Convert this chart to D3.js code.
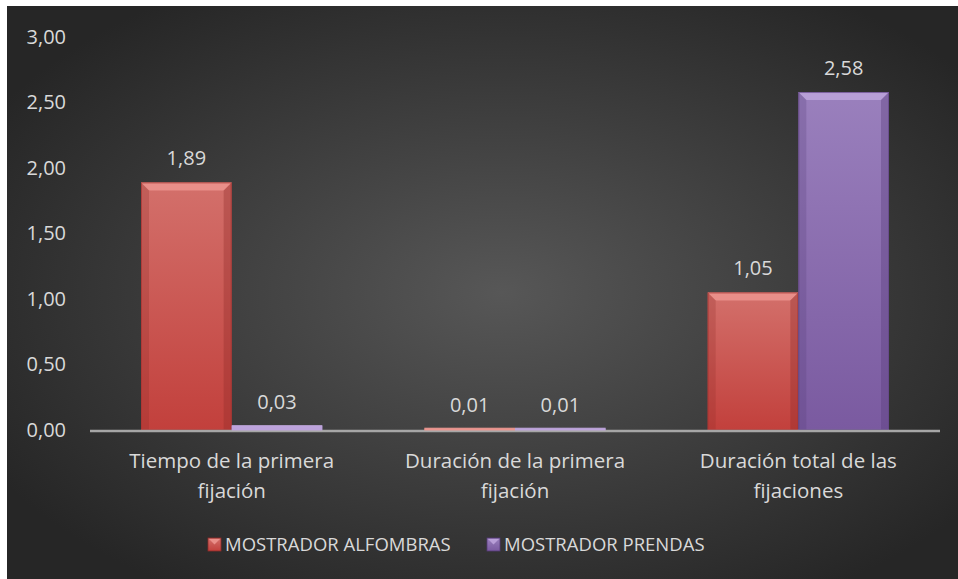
<!DOCTYPE html>
<html>
<head>
<meta charset="utf-8">
<script src="https://cdn.jsdelivr.net/npm/d3@7"></script>
<style>
  html, body { margin: 0; padding: 0; background: #ffffff; }
  svg { display: block; }
  text { font-family: "Open Sans", Lato, sans-serif; }
</style>
</head>
<body>
<svg id="chart" width="958" height="579"></svg>
<script>
// Eye-tracking metrics per display stand
const categories = [
  ["Tiempo de la primera", "fijación"],
  ["Duración de la primera", "fijación"],
  ["Duración total de las", "fijaciones"]
];
const seriesNames = ["MOSTRADOR ALFOMBRAS", "MOSTRADOR PRENDAS"];
const alfombras = [1.89, 0.01, 1.05];
const prendas = [0.03, 0.01, 2.58];
const yTicks = [0, 0.5, 1, 1.5, 2, 2.5, 3];

const W = 958, H = 579;
const FONT = 20;
const CAT_FONT = 20.5;
const LEGEND_FONT = 18.5;
const TEXT = "#d9d9d9";
const svg = d3.select("#chart");
const defs = svg.append("defs");

// Chart area background: dark radial vignette
const bg = defs.append("radialGradient").attr("id", "bg")
  .attr("cx", "52%").attr("cy", "50%").attr("r", "62%");
bg.append("stop").attr("offset", "0%").attr("stop-color", "#575757");
bg.append("stop").attr("offset", "100%").attr("stop-color", "#262626");
svg.append("rect").attr("x", 7).attr("y", 6).attr("width", W - 7).attr("height", H - 6)
  .attr("fill", "url(#bg)");

const colors = [
  { top: "#d3706b", bottom: "#c2403c", light: "#f09a94", dark: "#8e2b28", edge: "#a83532" },
  { top: "#9a80bd", bottom: "#7a5aa0", light: "#c2a9e0", dark: "#553a78", edge: "#634686" }
];
colors.forEach((c, i) => {
  const g = defs.append("linearGradient").attr("id", "fill" + i)
    .attr("x1", 0).attr("y1", 0).attr("x2", 0).attr("y2", 1);
  g.append("stop").attr("offset", "0%").attr("stop-color", c.top);
  g.append("stop").attr("offset", "100%").attr("stop-color", c.bottom);
});

const x0 = d3.scaleBand().domain(d3.range(categories.length)).range([90, 940]).paddingInner(0.36).paddingOuter(0.18);
const x1 = d3.scaleBand().domain([0, 1]).range([0, x0.bandwidth()]);
const y = d3.scaleLinear().domain([0, 3]).range([430, 37]);

const fmt = v => d3.format(".2f")(v).replace(".", ",");

// Y axis labels (no line, no ticks)
const yAxis = d3.axisLeft(y).tickValues(yTicks).tickFormat(fmt).tickSize(0).tickPadding(0);
const yg = svg.append("g").attr("transform", "translate(66,0)").call(yAxis);
yg.select(".domain").remove();
yg.selectAll("text").attr("fill", TEXT).attr("font-size", FONT).attr("font-family", "'Open Sans', Lato, sans-serif");

// Bars
const series = [alfombras, prendas];
series.forEach((vals, s) => {
  const c = colors[s];
  vals.forEach((v, i) => {
    const bx = x0(i) + x1(s);
    const bw = x1.bandwidth();
    const by = y(v);
    const bh = y(0) - y(v);
    const g = svg.append("g");
    g.append("rect").attr("x", bx).attr("y", by).attr("width", bw).attr("height", bh)
      .attr("fill", "url(#fill" + s + ")");
    const b = Math.min(8, bh / 2, bw / 2);
    if (bh > 6) {
      // bevel edges
      g.append("polygon").attr("points", [[bx, by], [bx + bw, by], [bx + bw - b, by + b], [bx + b, by + b]].join(" "))
        .attr("fill", c.light).attr("opacity", 0.75);
      g.append("polygon").attr("points", [[bx, by], [bx + b, by + b], [bx + b, by + bh], [bx, by + bh]].join(" "))
        .attr("fill", c.dark).attr("opacity", 0.25);
      g.append("polygon").attr("points", [[bx + bw, by], [bx + bw - b, by + b], [bx + bw - b, by + bh], [bx + bw, by + bh]].join(" "))
        .attr("fill", c.dark).attr("opacity", 0.35);
      g.append("rect").attr("x", bx + 0.5).attr("y", by + 0.5).attr("width", bw - 1).attr("height", bh - 1)
        .attr("fill", "none").attr("stroke", c.edge).attr("stroke-width", 1).attr("opacity", 0.7);
    }
    // value label
    svg.append("text").attr("x", bx + bw / 2).attr("y", by - 17)
      .attr("text-anchor", "middle").attr("fill", TEXT).attr("font-size", FONT)
      .text(fmt(v));
  });
});

// Category axis line
svg.append("line").attr("x1", 90).attr("x2", 940).attr("y1", y(0) + 1).attr("y2", y(0) + 1)
  .attr("stroke", "#a6a6a6").attr("stroke-width", 2.5);
// tiny bars drawn over the axis line
series.forEach((vals, s) => {
  vals.forEach((v, i) => {
    const bh = y(0) - y(v);
    if (bh <= 6) {
      svg.append("rect").attr("x", x0(i) + x1(s)).attr("y", y(v) - 1)
        .attr("width", x1.bandwidth()).attr("height", Math.max(bh, 1) + 1.5)
        .attr("fill", colors[s].light).attr("opacity", 0.9);
    }
  });
});

// Category labels
categories.forEach((lines, i) => {
  const cx = x0(i) + x0.bandwidth() / 2;
  const t = svg.append("text").attr("x", cx).attr("y", 468)
    .attr("text-anchor", "middle").attr("fill", TEXT).attr("font-size", CAT_FONT);
  lines.forEach((ln, k) => t.append("tspan").attr("x", cx).attr("dy", k ? 30 : 0).text(ln));
});

// Legend
const legendX = [208, 487];
seriesNames.forEach((name, s) => {
  const c = colors[s];
  const lx = legendX[s], ly = 538;
  svg.append("rect").attr("x", lx).attr("y", ly).attr("width", 13).attr("height", 13).attr("fill", "url(#fill" + s + ")")
    .attr("stroke", c.dark).attr("stroke-width", 0.8);
  svg.append("polygon").attr("points", [[lx + 1, ly + 1], [lx + 12, ly + 1], [lx + 6.5, ly + 6.5]].join(" "))
    .attr("fill", c.light).attr("opacity", 0.8);
  svg.append("text").attr("x", lx + 17).attr("y", ly + 13).attr("fill", TEXT).attr("font-size", LEGEND_FONT).text(name);
});
</script>
</body>
</html>
